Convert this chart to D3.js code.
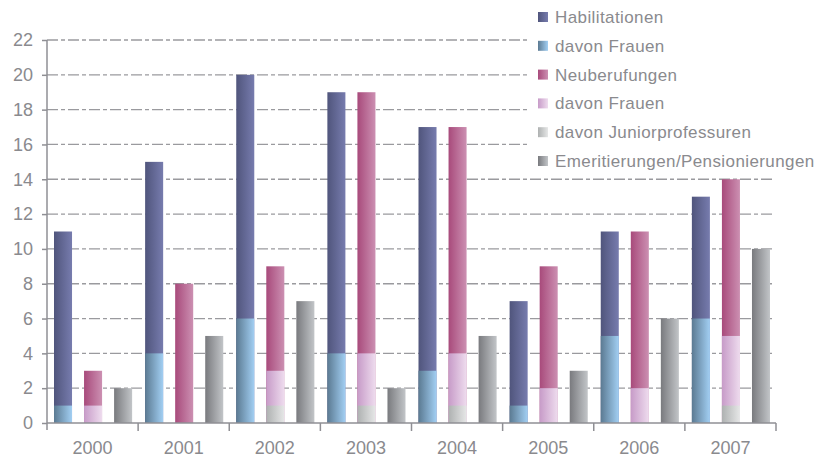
<!DOCTYPE html>
<meta charset="utf-8">
<style>
body { margin: 0; background: #fff; font-family: "Liberation Sans", Arial, sans-serif; }
.axis text { fill: #8a8a8e; font-size: 18px; font-family: "Liberation Sans", Arial, sans-serif; }
.legend text { fill: #8a8a8e; font-size: 17px; letter-spacing: 0.4px; }
</style>
<body>
<script src="https://d3js.org/d3.v7.min.js"></script>
<script>

var years = ["2000", "2001", "2002", "2003", "2004", "2005", "2006", "2007"];
var habilitationen = [11, 15, 20, 19, 17, 7, 11, 13];
var habFrauen = [1, 4, 6, 4, 3, 1, 5, 6];
var neuberufungen = [3, 8, 9, 19, 17, 9, 11, 14];
var neuFrauen = [1, 0, 3, 4, 4, 2, 2, 5];
var junior = [0, 0, 1, 1, 1, 0, 0, 1];
var emeritierungen = [2, 5, 7, 2, 5, 3, 6, 10];
var yTicks = [0, 2, 4, 6, 8, 10, 12, 14, 16, 18, 20, 22];
var legendLabels = ["Habilitationen", "davon Frauen", "Neuberufungen", "davon Frauen",
  "davon Juniorprofessuren", "Emeritierungen/Pensionierungen"];

var width = 833, height = 460;
var margin = {top: 40, right: 57, bottom: 37, left: 47};
var innerWidth = width - margin.left - margin.right;
var innerHeight = height - margin.top - margin.bottom;

// gradient stops: left (dark) -> right (light)
var grads = [
  {id: "g-hab", c: ["#50557c", "#777cae"]},
  {id: "g-habf", c: ["#5b7a92", "#a2cff3"]},
  {id: "g-neu", c: ["#a84a7b", "#cc90b2"]},
  {id: "g-neuf", c: ["#c79bc8", "#eedcee"]},
  {id: "g-jun", c: ["#aeb1b1", "#e6e7e7"]},
  {id: "g-em", c: ["#797a7e", "#c2c5c8"]}
];

var svg = d3.select("body").append("svg")
    .attr("width", width)
    .attr("height", height);

var defs = svg.append("defs");
grads.forEach(function(g) {
  var lg = defs.append("linearGradient").attr("id", g.id)
      .attr("x1", "0").attr("x2", "1").attr("y1", "0").attr("y2", "0");
  lg.append("stop").attr("offset", "0%").attr("stop-color", g.c[0]);
  lg.append("stop").attr("offset", "100%").attr("stop-color", g.c[1]);
});

var g = svg.append("g")
    .attr("transform", `translate(${margin.left},${margin.top})`);

var x = d3.scaleBand().domain(years).range([0, innerWidth]).padding(0);
var inner = d3.scaleBand().domain([0, 1, 2])
    .range([7, x.bandwidth() - 6]).paddingInner(0.4).paddingOuter(0);
var y = d3.scaleLinear().domain([0, 22]).range([innerHeight, 0]);

// grid lines
g.append("g").selectAll("line")
  .data(yTicks.filter(d => d > 0))
  .enter().append("line")
    .attr("x1", 0).attr("x2", innerWidth - 3)
    .attr("y1", d => y(d)).attr("y2", d => y(d))
    .attr("stroke", "#9a9a9e")
    .attr("stroke-width", 1.3)
    .attr("stroke-dasharray", "11,3,4,3");

// bars
var series = [
  {vals: habilitationen, k: 0, grad: "g-hab"},
  {vals: habFrauen, k: 0, grad: "g-habf"},
  {vals: neuberufungen, k: 1, grad: "g-neu"},
  {vals: neuFrauen, k: 1, grad: "g-neuf"},
  {vals: junior, k: 1, grad: "g-jun"},
  {vals: emeritierungen, k: 2, grad: "g-em"}
];

series.forEach(function(s) {
  g.append("g").selectAll("rect")
    .data(years.map((yr, i) => ({year: yr, v: s.vals[i]})).filter(d => d.v > 0))
    .enter().append("rect")
      .attr("x", d => x(d.year) + inner(s.k))
      .attr("width", inner.bandwidth())
      .attr("y", d => y(d.v))
      .attr("height", d => y(0) - y(d.v))
      .attr("fill", `url(#${s.grad})`);
});

// y axis
var yAxis = d3.axisLeft(y).tickValues(yTicks).tickSize(5).tickPadding(9);
var ya = g.append("g").attr("class", "axis").call(yAxis);
ya.select(".domain").attr("stroke", "#8f8f94").attr("stroke-width", 1.5).attr("d", `M0,0V${innerHeight + 7}`);
ya.selectAll(".tick line").attr("stroke", "#8f8f94").attr("stroke-width", 1.5);

// x axis
var xa = g.append("g").attr("class", "axis")
    .attr("transform", `translate(0,${innerHeight})`);
xa.append("line").attr("x1", 0).attr("x2", innerWidth)
    .attr("stroke", "#8f8f94").attr("stroke-width", 1.5);
var bounds = years.map(d => x(d)).concat([x.range()[1]]);
xa.selectAll("line.tk").data(bounds.slice(1)).enter().append("line")
    .attr("class", "tk")
    .attr("x1", d => d).attr("x2", d => d)
    .attr("y1", 0).attr("y2", 8)
    .attr("stroke", "#8f8f94").attr("stroke-width", 1.5);
xa.selectAll("text").data(years).enter().append("text")
    .attr("x", d => x(d) + x.bandwidth() / 2)
    .attr("y", 31)
    .attr("text-anchor", "middle")
    .text(d => d);

// legend with white box that hides the grid behind it
svg.append("rect")
    .attr("x", 527).attr("y", 0)
    .attr("width", width - 527).attr("height", 172)
    .attr("fill", "#fff");
var legend = svg.append("g").attr("class", "legend")
    .attr("transform", "translate(538,17)");
var items = legend.selectAll("g").data(legendLabels).enter().append("g")
    .attr("transform", (d, i) => `translate(0,${i * 28.8})`);
items.append("rect")
    .attr("x", 0).attr("y", -5).attr("width", 10).attr("height", 10)
    .attr("fill", (d, i) => `url(#${grads[i].id})`);
items.append("text")
    .attr("x", 17).attr("y", 6)
    .text(d => d);

</script>
</body>
